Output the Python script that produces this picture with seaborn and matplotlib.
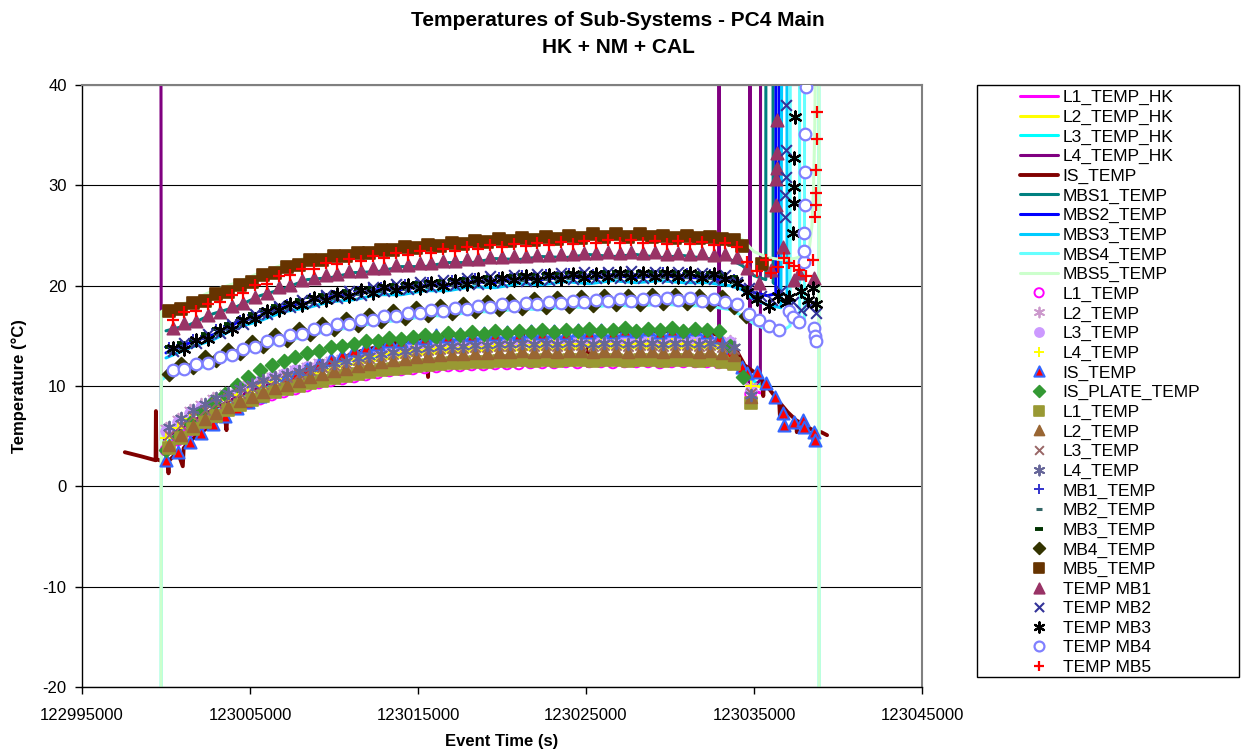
import matplotlib
matplotlib.use("Agg")
import matplotlib.pyplot as plt
import seaborn as sns
from matplotlib.patches import Rectangle
from matplotlib.markers import MarkerStyle
from matplotlib.ticker import FuncFormatter

# ---------------------------------------------------------------------------
# Data: times are given in kiloseconds relative to T0 (event time in seconds)
# ---------------------------------------------------------------------------
T0 = 123000000

X_TICKS = [122995000, 123005000, 123015000, 123025000, 123035000, 123045000]
Y_TICKS = [-20, -10, 0, 10, 20, 30, 40]

# sampling grids of the three marker groups (CAL, NM, TEMP MBx) and of HK lines
T_CAL = [0.0, 0.7, 1.4, 2.1, 2.8, 3.5, 4.2, 4.9, 5.6, 6.3, 7.0, 7.7, 8.4, 9.1, 9.8,
         10.5, 11.2, 11.9, 12.6, 13.3, 14.0, 14.7, 15.4, 16.1, 16.8, 17.5, 18.2,
         18.9, 19.6, 20.3, 21.0, 21.7, 22.4, 23.1, 23.8, 24.5, 25.2, 25.9, 26.6,
         27.3, 28.0, 28.7, 29.4, 30.1, 30.8, 31.5, 32.2, 32.9, 33.6]
T_NM = [0.2, 0.9, 1.6, 2.3, 3.0, 3.7, 4.4, 5.1, 5.8, 6.5, 7.2, 7.9, 8.6, 9.3, 10.0,
        10.7, 11.4, 12.1, 12.8, 13.5, 14.2, 14.9, 15.6, 16.3, 17.0, 17.7, 18.4,
        19.1, 19.8, 20.5, 21.2, 21.9, 22.6, 23.3, 24.0, 24.7, 25.4, 26.1, 26.8,
        27.5, 28.2, 28.9, 29.6, 30.3, 31.0, 31.7, 32.4, 33.1, 33.8]
T_TMB = [0.4, 1.1, 1.8, 2.5, 3.2, 3.9, 4.6, 5.3, 6.0, 6.7, 7.4, 8.1, 8.8, 9.5, 10.2,
         10.9, 11.6, 12.3, 13.0, 13.7, 14.4, 15.1, 15.8, 16.5, 17.2, 17.9, 18.6,
         19.3, 20.0, 20.7, 21.4, 22.1, 22.8, 23.5, 24.2, 24.9, 25.6, 26.3, 27.0,
         27.7, 28.4, 29.1, 29.8, 30.5, 31.2, 31.9, 32.6, 33.3, 34.0]
T_HK = [0.0, 1.4, 2.8, 4.2, 5.6, 7.0, 8.4, 9.8, 11.2, 12.6, 14.0, 15.4, 16.8, 18.2,
        19.6, 21.0, 22.4, 23.8, 25.2, 26.6, 28.0, 29.4, 30.8, 32.2, 33.6]

# --- HK lines --------------------------------------------------------------
L1_HK = [3.5, 5.3, 6.6, 7.6, 8.5, 9.3, 10.1, 10.6, 11.1, 11.5, 11.8, 12.1, 12.3,
         12.4, 12.5, 12.5, 12.6, 12.6, 12.7, 12.7, 12.7, 12.7, 12.7, 12.7, 12.6]
L2_HK = [3.9, 5.8, 7.2, 8.4, 9.4, 10.3, 11.1, 11.7, 12.2, 12.6, 12.9, 13.2, 13.4,
         13.5, 13.6, 13.6, 13.7, 13.7, 13.8, 13.8, 13.8, 13.8, 13.8, 13.8, 13.7]
L3_HK = [4.3, 6.2, 7.6, 8.8, 9.8, 10.7, 11.5, 12.1, 12.6, 13.0, 13.3, 13.6, 13.8,
         13.9, 14.0, 14.0, 14.1, 14.1, 14.2, 14.2, 14.2, 14.2, 14.2, 14.2, 14.1]
HK_END_T = [34.3, 34.8, 35.4]
L1_HK_END = [11.0, 9.6, 9.3]
L2_HK_END = [11.8, 10.2, 9.9]
L3_HK_END = [12.2, 10.6, 10.2]

L4_HK_T = [-0.32, -0.28, 1.4, 2.8, 4.2, 5.6, 7.0, 8.4, 9.8, 11.2, 12.6, 14.0, 15.4,
           16.8, 18.2, 19.6, 21.0, 22.4, 23.8, 25.2, 26.6, 28.0, 29.4, 30.8, 32.2,
           32.9, 32.92, 32.94, 33.6, 34.2, 34.74, 34.76, 34.78, 35.38, 35.4]
L4_HK_V = [80, 4.6, 6.3, 7.7, 8.9, 9.9, 10.8, 11.6, 12.2, 12.7, 13.1, 13.4, 13.7,
           13.9, 14.0, 14.1, 14.1, 14.2, 14.2, 14.3, 14.3, 14.3, 14.3, 14.3, 14.3,
           14.2, 80, 14.1, 13.9, 12.0, 10.4, 80, 9.6, 10.6, 80]

IS_LINE_T = [-2.45, -1.5, -0.62, -0.6, -0.57, -0.2, 0.1, 0.15, 0.2, 0.7, 1.0, 1.05,
             1.4, 2.1, 2.8, 3.5, 3.6, 3.65, 4.2, 4.9, 5.6, 6.3, 7.0, 7.7, 8.4, 9.1,
             9.8, 10.5, 10.6, 10.65, 11.2, 11.9, 12.6, 13.3, 14.0, 14.7, 15.4, 15.6,
             15.65, 16.1, 16.8, 17.5, 18.2, 18.9, 19.1, 19.15, 19.6, 20.3, 21.0,
             21.2, 21.25, 21.7, 22.4, 23.1, 23.8, 24.5, 25.1, 25.15, 25.9, 26.6,
             27.3, 28.0, 28.7, 29.4, 30.1, 30.8, 31.5, 32.2, 32.9, 33.6, 34.0, 34.4,
             34.45, 34.5, 35.0, 35.5, 35.55, 35.6, 36.0, 36.5, 36.55, 36.6, 37.0,
             37.5, 37.55, 37.6, 38.0, 38.5, 38.55, 38.6, 39.0, 39.35]
IS_LINE_V = [3.4, 3.0, 2.6, 7.5, 2.7, 2.5, 2.2, 1.3, 2.6, 3.4, 2.0, 3.8, 4.5, 5.4,
             6.2, 7.0, 5.6, 7.1, 7.7, 8.3, 8.9, 9.5, 10.1, 10.7, 11.3, 11.8, 12.3,
             12.8, 10.6, 12.9, 13.3, 13.6, 13.9, 14.2, 14.4, 14.6, 14.8, 10.9, 14.8,
             14.9, 15.0, 15.1, 15.1, 15.2, 12.3, 15.2, 15.2, 15.3, 15.3, 12.1, 15.3,
             15.4, 15.3, 15.4, 15.4, 15.5, 12.0, 15.4, 15.5, 15.5, 15.4, 15.5, 15.5,
             15.4, 15.5, 15.5, 15.4, 15.5, 15.0, 14.2, 13.4, 12.2, 10.5, 12.0, 11.4,
             10.6, 9.0, 10.4, 9.5, 8.4, 6.8, 8.2, 7.4, 6.6, 5.4, 6.5, 6.1, 5.6, 4.3,
             5.5, 5.4, 5.1]

MBS1 = [15.5, 16.1, 17.2, 17.9, 19.0, 19.7, 20.6, 20.8, 21.3, 21.4, 21.9, 21.9, 22.3,
        22.3, 22.7, 22.6, 22.9, 22.8, 23.1, 22.9, 23.1, 22.8, 23.0, 22.7, 22.6]
MBS1_END_T = [34.3, 35.0, 35.7, 35.72, 36.12, 36.14, 36.2]
MBS1_END = [22.0, 21.0, 20.6, 80, 80, 20.3, 20.2]

MBS2 = [13.3, 14.3, 15.1, 16.3, 17.0, 17.9, 18.3, 18.9, 19.1, 19.6, 19.6, 20.0, 20.0,
        20.4, 20.3, 20.7, 20.6, 20.9, 20.7, 21.0, 20.8, 21.0, 20.8, 20.8, 20.5]
MBS2_END_T = [34.3, 35.0, 35.8, 36.3, 36.32, 36.5, 36.52, 36.6]
MBS2_END = [20.0, 19.3, 19.0, 19.2, 80, 80, 19.0, 19.0]

MBS3 = [12.8, 13.8, 14.6, 15.8, 16.5, 17.4, 17.8, 18.4, 18.6, 19.1, 19.1, 19.5, 19.5,
        19.9, 19.8, 20.2, 20.1, 20.4, 20.2, 20.5, 20.3, 20.5, 20.3, 20.3, 20.0]
MBS3_END_T = [34.3, 35.0, 35.8, 36.6, 36.72, 36.95, 36.97, 37.05]
MBS3_END = [19.6, 18.6, 18.1, 17.8, 80, 80, 17.6, 17.5]

MBS4_START_T = [-0.3, -0.28]
MBS4_START = [-60, 10.6]
MBS4 = [10.9, 11.6, 12.1, 13.1, 13.8, 14.5, 14.9, 15.6, 15.8, 16.4, 16.5, 17.0, 17.0,
        17.4, 17.4, 17.7, 17.6, 17.9, 17.8, 18.1, 17.9, 18.2, 18.0, 18.0, 17.6]
MBS4_END_T = [34.3, 35.0, 35.8, 36.6, 37.15, 37.17, 37.7, 37.72, 38.0, 38.02, 38.86,
              38.88]
MBS4_END = [17.0, 16.2, 15.6, 15.4, 16.0, 80, 80, 16.5, 16.5, 80, 80, -60]

MBS5_START_T = [-0.3, -0.28]
MBS5_START = [-60, 17.4]
MBS5 = [17.7, 18.4, 19.5, 20.3, 21.3, 22.1, 22.8, 23.2, 23.5, 23.8, 24.1, 24.3, 24.5,
        24.7, 24.9, 25.0, 25.1, 25.2, 25.3, 25.3, 25.3, 25.2, 25.2, 25.1, 25.0]
MBS5_END_T = [34.3, 35.0, 35.8, 36.6, 37.4, 38.0, 38.3, 38.45, 38.55, 38.62, 38.67,
              38.7, 38.86, 38.88]
MBS5_END = [24.6, 23.4, 22.8, 22.6, 22.7, 23.0, 23.8, 26.0, 30.0, 36.0, 45.0, 80, 80,
            -60]

# --- CAL markers -------------------------------------------------------------
L1_CAL = [3.6, 4.6, 5.5, 6.2, 6.8, 7.4, 7.9, 8.3, 8.7, 9.1, 9.4, 9.7, 10.0, 10.3, 10.5,
          10.7, 10.9, 11.1, 11.3, 11.5, 11.6, 11.7, 11.8, 11.9, 12.0, 12.0, 12.1, 12.1,
          12.2, 12.2, 12.2, 12.3, 12.3, 12.3, 12.4, 12.3, 12.4, 12.4, 12.3, 12.4, 12.4,
          12.4, 12.3, 12.4, 12.4, 12.4, 12.4, 12.3, 12.2]
L2_CAL = [5.8, 6.7, 7.6, 8.2, 8.8, 9.3, 9.8, 10.2, 10.6, 11.0, 11.3, 11.7, 12.0, 12.4,
          12.6, 12.8, 13.1, 13.3, 13.5, 13.7, 13.8, 14.0, 14.1, 14.2, 14.3, 14.3, 14.4,
          14.4, 14.5, 14.5, 14.5, 14.6, 14.6, 14.6, 14.6, 14.7, 14.6, 14.7, 14.7, 14.6,
          14.7, 14.7, 14.6, 14.7, 14.7, 14.6, 14.7, 14.6, 14.5]
L3_CAL = [5.5, 6.4, 7.3, 7.9, 8.5, 9.1, 9.6, 10.0, 10.5, 10.9, 11.2, 11.6, 11.9, 12.2,
          12.5, 12.7, 13.0, 13.2, 13.4, 13.6, 13.7, 13.9, 14.0, 14.1, 14.2, 14.2, 14.3,
          14.3, 14.4, 14.4, 14.4, 14.5, 14.5, 14.5, 14.5, 14.6, 14.5, 14.6, 14.6, 14.5,
          14.6, 14.6, 14.5, 14.6, 14.6, 14.5, 14.6, 14.5, 14.4]
L4_CAL = [4.8, 5.8, 6.7, 7.4, 8.0, 8.6, 9.1, 9.5, 10.0, 10.4, 10.7, 11.1, 11.5, 11.8,
          12.1, 12.3, 12.6, 12.8, 13.0, 13.2, 13.3, 13.5, 13.6, 13.7, 13.8, 13.8, 13.9,
          13.9, 14.0, 14.0, 14.0, 14.1, 14.1, 14.1, 14.1, 14.2, 14.1, 14.2, 14.2, 14.1,
          14.2, 14.2, 14.1, 14.2, 14.2, 14.1, 14.2, 14.1, 14.0]
IS_CAL = [2.6, 3.4, 4.4, 5.3, 6.2, 7.0, 7.8, 8.4, 9.0, 9.7, 10.4, 11.0, 11.7, 12.2,
          12.7, 13.1, 13.6, 13.9, 14.2, 14.5, 14.5, 14.9, 14.8, 15.1, 15.0, 15.2, 15.1,
          15.3, 15.2, 15.4, 15.2, 15.5, 15.3, 15.5, 15.3, 15.6, 15.4, 15.6, 15.4, 15.6,
          15.5, 15.7, 15.4, 15.6, 15.5, 15.7, 15.4, 14.9, 13.4]
IS_PLATE = [3.6, 4.9, 6.3, 7.4, 8.4, 9.2, 10.1, 10.9, 11.6, 12.1, 12.5, 12.9, 13.3,
            13.5, 13.9, 14.0, 14.2, 14.5, 14.5, 14.8, 14.7, 14.9, 15.1, 14.9, 15.3,
            15.1, 15.4, 15.2, 15.5, 15.3, 15.5, 15.4, 15.6, 15.4, 15.6, 15.5, 15.7,
            15.5, 15.6, 15.8, 15.5, 15.7, 15.6, 15.8, 15.5, 15.7, 15.6, 15.5, 14.0]
CAL_END_T = [34.8]
L1_CAL_END = [9.2]
L2_CAL_END = [10.0]
L3_CAL_END = [9.6]
L4_CAL_END = [10.0]
IS_CAL_END_T = [34.3, 34.6, 35.2, 35.7, 36.25, 36.7, 36.8, 37.4, 37.9, 38.0, 38.6, 38.62]
IS_CAL_END = [11.9, 11.3, 11.4, 10.3, 8.9, 7.3, 6.1, 6.4, 6.6, 5.9, 5.4, 4.6]
IS_PLATE_END_T = [34.35]
IS_PLATE_END = [10.9]

# --- NM markers --------------------------------------------------------------
L1_NM = [3.8, 4.8, 5.7, 6.4, 7.0, 7.6, 8.1, 8.6, 9.0, 9.4, 9.7, 10.0, 10.3, 10.5, 10.8,
         11.0, 11.2, 11.4, 11.6, 11.7, 11.8, 12.0, 12.1, 12.2, 12.3, 12.3, 12.4, 12.4,
         12.5, 12.5, 12.6, 12.5, 12.6, 12.5, 12.6, 12.6, 12.5, 12.6, 12.6, 12.5, 12.6,
         12.6, 12.5, 12.6, 12.6, 12.5, 12.6, 12.4, 12.2]
L2_NM = [4.1, 5.1, 6.0, 6.7, 7.3, 7.9, 8.5, 8.9, 9.4, 9.8, 10.1, 10.5, 10.9, 11.2, 11.5,
         11.7, 12.0, 12.2, 12.4, 12.6, 12.7, 12.9, 13.0, 13.1, 13.2, 13.2, 13.3, 13.3,
         13.4, 13.4, 13.5, 13.4, 13.5, 13.4, 13.5, 13.5, 13.4, 13.5, 13.5, 13.4, 13.5,
         13.5, 13.4, 13.5, 13.5, 13.4, 13.5, 13.3, 13.1]
L3_NM = [5.1, 6.1, 7.0, 7.6, 8.3, 8.8, 9.3, 9.8, 10.2, 10.6, 10.9, 11.2, 11.6, 11.9,
         12.1, 12.3, 12.6, 12.8, 13.0, 13.2, 13.3, 13.5, 13.6, 13.7, 13.8, 13.8, 13.9,
         13.9, 14.0, 14.0, 14.1, 14.0, 14.1, 14.0, 14.1, 14.1, 14.0, 14.1, 14.1, 14.0,
         14.1, 14.1, 14.0, 14.1, 14.1, 14.0, 14.1, 13.9, 13.7]
L4_NM = [5.9, 6.8, 7.6, 8.2, 8.8, 9.3, 9.8, 10.2, 10.6, 10.9, 11.2, 11.5, 11.8, 12.1,
         12.3, 12.5, 12.8, 13.0, 13.2, 13.4, 13.5, 13.7, 13.8, 13.9, 14.0, 14.0, 14.1,
         14.1, 14.2, 14.2, 14.3, 14.2, 14.3, 14.2, 14.3, 14.3, 14.2, 14.3, 14.3, 14.2,
         14.3, 14.3, 14.2, 14.3, 14.3, 14.2, 14.3, 14.1, 13.9]
NM_END_T = [34.8]
L1_NM_END = [8.3]
L2_NM_END = [8.9]
L3_NM_END = [9.3]
L4_NM_END = [9.1]

MB1_NM = [13.9, 14.1, 14.7, 15.0, 15.7, 16.0, 16.6, 17.1, 17.4, 17.9, 18.2, 18.4, 18.8,
          19.0, 19.1, 19.5, 19.5, 19.8, 19.9, 20.0, 20.2, 20.1, 20.4, 20.3, 20.6, 20.5,
          20.8, 20.7, 20.9, 20.8, 21.1, 20.9, 21.2, 21.0, 21.3, 21.1, 21.2, 21.3, 21.2,
          21.4, 21.2, 21.3, 21.4, 21.2, 21.3, 21.1, 21.2, 21.0, 20.7]
MB2_NM = [13.4, 13.8, 14.1, 14.8, 15.2, 15.7, 16.2, 16.7, 17.2, 17.5, 17.8, 18.2, 18.4,
          18.7, 18.8, 19.0, 19.2, 19.4, 19.5, 19.6, 19.7, 19.9, 19.9, 20.0, 20.1, 20.2,
          20.3, 20.4, 20.4, 20.5, 20.6, 20.6, 20.7, 20.7, 20.8, 20.8, 20.8, 20.9, 20.9,
          20.9, 20.9, 20.9, 20.9, 20.9, 20.9, 20.8, 20.8, 20.7, 20.4]
MB3_NM = [13.9, 14.3, 14.6, 15.2, 15.7, 16.2, 16.7, 17.2, 17.6, 18.0, 18.3, 18.6, 18.9,
          19.1, 19.3, 19.5, 19.7, 19.8, 20.0, 20.1, 20.2, 20.3, 20.4, 20.5, 20.6, 20.7,
          20.8, 20.9, 20.9, 21.0, 21.1, 21.1, 21.2, 21.2, 21.3, 21.3, 21.3, 21.4, 21.4,
          21.4, 21.4, 21.4, 21.4, 21.4, 21.4, 21.3, 21.3, 21.2, 20.9]
MB4_NM = [11.2, 12.2, 11.9, 12.9, 12.6, 13.6, 13.3, 14.4, 14.0, 15.1, 14.6, 15.7, 15.2,
          16.2, 15.7, 16.7, 16.1, 17.1, 16.5, 17.5, 16.8, 17.8, 17.1, 18.0, 17.3, 18.2,
          17.5, 18.4, 17.7, 18.5, 17.8, 18.7, 17.9, 18.8, 18.0, 18.9, 18.1, 19.0, 18.2,
          19.0, 18.2, 19.1, 18.3, 19.1, 18.3, 19.0, 18.2, 18.9, 17.9]
MB5_NM = [17.5, 17.7, 18.3, 18.5, 19.2, 19.4, 20.1, 20.4, 21.1, 21.3, 21.9, 22.1, 22.6,
          22.6, 23.0, 23.0, 23.3, 23.3, 23.6, 23.6, 23.9, 23.8, 24.1, 24.0, 24.3, 24.2,
          24.5, 24.4, 24.7, 24.5, 24.8, 24.6, 24.9, 24.7, 25.0, 24.8, 25.1, 24.9, 25.1,
          24.9, 25.1, 24.9, 25.0, 24.8, 25.0, 24.8, 24.9, 24.7, 24.6]
MB_END_T = [34.5, 35.2]
MB1_END = [19.6, 18.7]
MB2_END = [19.4, 18.5]
MB3_END = [19.8, 18.9]
MB4_END_T = [34.5]
MB4_END = [17.0]
MB5_END_T = [34.3, 35.5]
MB5_END = [24.0, 22.2]

# --- TEMP MBx markers ---------------------------------------------------------
TMB1 = [15.8, 16.3, 16.5, 17.1, 17.4, 18.0, 18.3, 18.9, 19.3, 19.9, 20.1, 20.6, 20.8,
        21.1, 21.2, 21.5, 21.5, 21.8, 21.8, 22.1, 22.1, 22.3, 22.3, 22.5, 22.5, 22.7,
        22.7, 22.9, 22.9, 23.0, 23.0, 23.1, 23.1, 23.2, 23.2, 23.3, 23.3, 23.4, 23.3,
        23.4, 23.3, 23.4, 23.2, 23.3, 23.2, 23.3, 23.1, 23.2, 22.9]
TMB1_END_T = [34.6, 35.3, 36.0, 36.3, 36.32, 36.34, 36.36, 36.38, 36.4, 36.7, 37.4,
              37.7, 38.6]
TMB1_END = [21.8, 20.3, 21.6, 28.0, 30.6, 31.7, 33.2, 36.5, 44.0, 23.9, 20.6, 21.3,
            20.8]

TMB2 = [13.5, 14.3, 14.3, 15.2, 15.3, 16.2, 16.2, 17.2, 17.2, 18.0, 17.9, 18.6, 18.4,
        19.1, 18.8, 19.5, 19.1, 19.9, 19.5, 20.2, 19.7, 20.4, 19.9, 20.6, 20.1, 20.8,
        20.2, 21.0, 20.4, 21.1, 20.5, 21.2, 20.6, 21.3, 20.7, 21.4, 20.8, 21.4, 20.8,
        21.5, 20.8, 21.4, 20.8, 21.4, 20.7, 21.3, 20.7, 21.1, 20.4]
TMB2_END_T = [34.7, 35.4, 36.1, 36.6, 36.85, 36.87, 36.89, 36.91, 36.93, 36.95, 37.3,
              37.8, 38.3, 38.7]
TMB2_END = [19.8, 19.0, 18.6, 19.5, 26.8, 29.0, 30.8, 33.5, 38.0, 45.0, 18.4, 17.6,
            18.0, 17.3]

TMB3 = [13.8, 13.7, 14.6, 14.7, 15.6, 15.7, 16.6, 16.7, 17.5, 17.6, 18.2, 18.1, 18.8,
        18.6, 19.2, 19.0, 19.6, 19.3, 19.9, 19.6, 20.1, 19.8, 20.3, 20.0, 20.5, 20.2,
        20.7, 20.4, 20.8, 20.6, 21.0, 20.6, 21.1, 20.7, 21.2, 20.8, 21.2, 20.9, 21.3,
        20.9, 21.3, 20.9, 21.3, 20.9, 21.3, 20.8, 21.2, 20.7, 20.3]
TMB3_END_T = [34.6, 35.2, 35.9, 36.4, 36.9, 37.1, 37.35, 37.37, 37.39, 37.41, 37.43,
              37.45, 37.8, 38.2, 38.5, 38.7]
TMB3_END = [19.4, 18.7, 18.0, 19.0, 18.3, 18.9, 25.2, 28.2, 29.8, 32.7, 36.8, 45.0,
            19.5, 18.6, 19.8, 18.2]

TMB4 = [11.6, 11.7, 12.2, 12.3, 12.9, 13.1, 13.7, 13.9, 14.5, 14.6, 15.1, 15.2, 15.7,
        15.7, 16.2, 16.2, 16.6, 16.6, 17.0, 17.0, 17.3, 17.3, 17.6, 17.5, 17.8, 17.7,
        18.0, 17.9, 18.2, 18.0, 18.3, 18.2, 18.4, 18.3, 18.5, 18.4, 18.6, 18.5, 18.7,
        18.5, 18.7, 18.6, 18.8, 18.6, 18.8, 18.5, 18.7, 18.4, 18.2]
TMB4_END_T = [34.7, 35.3, 35.9, 36.5, 37.1, 37.3, 37.7, 37.95, 37.97, 37.99, 38.01,
              38.03, 38.05, 38.07, 38.09, 38.6, 38.65, 38.7]
TMB4_END = [17.2, 16.6, 16.0, 15.6, 17.5, 16.9, 16.4, 22.4, 23.5, 25.2, 28.0, 31.3,
            35.1, 39.8, 46.0, 15.8, 15.0, 14.5]

TMB5 = [16.6, 17.4, 17.5, 18.2, 18.4, 19.1, 19.3, 20.1, 20.2, 21.0, 21.1, 21.7, 21.7,
        22.3, 22.2, 22.7, 22.5, 23.0, 22.8, 23.3, 23.1, 23.5, 23.3, 23.7, 23.5, 23.9,
        23.7, 24.1, 23.9, 24.2, 24.0, 24.3, 24.1, 24.4, 24.2, 24.5, 24.3, 24.6, 24.3,
        24.6, 24.3, 24.5, 24.2, 24.5, 24.2, 24.4, 24.1, 24.3, 23.9]
TMB5_END_T = [34.6, 35.2, 35.7, 36.0, 36.4, 36.8, 37.1, 37.4, 37.7, 38.1, 38.5, 38.66,
              38.68, 38.70, 38.72, 38.74, 38.76, 38.78]
TMB5_END = [22.4, 21.5, 22.6, 21.3, 21.9, 22.8, 22.3, 22.0, 21.6, 21.0, 22.6, 26.8,
            28.0, 29.2, 31.5, 34.6, 37.3, 45.0]

# ---------------------------------------------------------------------------
# Figure
# ---------------------------------------------------------------------------
sns.set_style("white")
plt.rcParams["font.family"] = ["Liberation Sans", "DejaVu Sans"]
plt.rcParams["axes.unicode_minus"] = False
for key in ("text.color", "axes.labelcolor", "xtick.color", "ytick.color"):
    plt.rcParams[key] = "black"

W, H = 1241, 753
fig = plt.figure(figsize=(W / 100, H / 100), dpi=100)
ax = fig.add_axes([82 / W, (H - 687) / H, 840 / W, 602 / H])


def secs(t):
    return [T0 + 1000.0 * v for v in t]


def line(t, v, color, label, lw=2.2):
    sns.lineplot(x=secs(t), y=v, color=color, linewidth=lw, label=label,
                 sort=False, estimator=None, legend=False, ax=ax, zorder=2)


def points(t, v, label, marker, color, s=60, edge=None, face=None, lw=1.2):
    kws = dict(x=secs(t), y=v, marker=marker, s=s, color=color, linewidth=lw,
               label=label, legend=False, ax=ax, zorder=3)
    if MarkerStyle(marker).is_filled():
        kws["edgecolor"] = edge or color
        if face is not None:
            kws["facecolor"] = face
    sns.scatterplot(**kws)


ASTERISK = (6, 2, 0)

# lines (HK telemetry)
line(T_HK + HK_END_T, L1_HK + L1_HK_END, "#ff00ff", "L1_TEMP_HK")
line(T_HK + HK_END_T, L2_HK + L2_HK_END, "#ffff00", "L2_TEMP_HK")
line(T_HK + HK_END_T, L3_HK + L3_HK_END, "#00ffff", "L3_TEMP_HK")
line(L4_HK_T, L4_HK_V, "#800080", "L4_TEMP_HK")
line(IS_LINE_T, IS_LINE_V, "#800000", "IS_TEMP", lw=2.8)
line(T_HK + MBS1_END_T, MBS1 + MBS1_END, "#008080", "MBS1_TEMP")
line(T_HK + MBS2_END_T, MBS2 + MBS2_END, "#0000ff", "MBS2_TEMP")
line(T_HK + MBS3_END_T, MBS3 + MBS3_END, "#00ccff", "MBS3_TEMP")
line(MBS4_START_T + T_HK + MBS4_END_T, MBS4_START + MBS4 + MBS4_END, "#66ffff",
     "MBS4_TEMP")
line(MBS5_START_T + T_HK + MBS5_END_T, MBS5_START + MBS5 + MBS5_END, "#ccffcc",
     "MBS5_TEMP")

# CAL markers
points(T_CAL + CAL_END_T, L1_CAL + L1_CAL_END, "L1_TEMP", "o", "#ff00ff",
       s=60, face="none", lw=1.4)
points(T_CAL + CAL_END_T, L2_CAL + L2_CAL_END, "L2_TEMP", ASTERISK, "#cc99cc",
       s=70, lw=1.3)
points(T_CAL + CAL_END_T, L3_CAL + L3_CAL_END, "L3_TEMP", "o", "#cc99ff", s=60)
points(T_CAL + CAL_END_T, L4_CAL + L4_CAL_END, "L4_TEMP", "+", "#ffff00",
       s=70, lw=1.4)
points(T_CAL + IS_CAL_END_T, IS_CAL + IS_CAL_END, "IS_TEMP", "^", "#3366ff",
       s=75, edge="#3366ff", face="#ff0000", lw=1.5)
points(T_CAL + IS_PLATE_END_T, IS_PLATE + IS_PLATE_END, "IS_PLATE_TEMP", "D",
       "#339933", s=50)

# NM markers
points(T_NM + NM_END_T, L1_NM + L1_NM_END, "L1_TEMP", "s", "#999933", s=68)
points(T_NM + NM_END_T, L2_NM + L2_NM_END, "L2_TEMP", "^", "#996633", s=72)
points(T_NM + NM_END_T, L3_NM + L3_NM_END, "L3_TEMP", "x", "#996666", s=55, lw=1.4)
points(T_NM + NM_END_T, L4_NM + L4_NM_END, "L4_TEMP", ASTERISK, "#666699",
       s=70, lw=1.4)
points(T_NM + MB_END_T, MB1_NM + MB1_END, "MB1_TEMP", "+", "#3333cc", s=60, lw=1.4)
points(T_NM + MB_END_T, MB2_NM + MB2_END, "MB2_TEMP", "_", "#336666", s=20, lw=2.2)
points(T_NM + MB_END_T, MB3_NM + MB3_END, "MB3_TEMP", "_", "#003300", s=40, lw=2.8)
points(T_NM + MB4_END_T, MB4_NM + MB4_END, "MB4_TEMP", "D", "#333300", s=50)
points(T_NM + MB5_END_T, MB5_NM + MB5_END, "MB5_TEMP", "s", "#663300", s=80)

# TEMP MBx markers
points(T_TMB + TMB1_END_T, TMB1 + TMB1_END, "TEMP MB1", "^", "#993366", s=80)
points(T_TMB + TMB2_END_T, TMB2 + TMB2_END, "TEMP MB2", "x", "#333399", s=60, lw=1.5)
points(T_TMB + TMB3_END_T, TMB3 + TMB3_END, "TEMP MB3", ASTERISK, "#000000",
       s=75, lw=1.6)
points(T_TMB + TMB4_END_T, TMB4 + TMB4_END, "TEMP MB4", "o", "#8080ff",
       s=70, face="white", lw=1.6)
points(T_TMB + TMB5_END_T, TMB5 + TMB5_END, "TEMP MB5", "+", "#ff0000", s=85, lw=1.6)

# axes styling
ax.set_xlim(X_TICKS[0], X_TICKS[-1])
ax.set_ylim(Y_TICKS[0], Y_TICKS[-1])
ax.set_xticks(X_TICKS)
ax.set_yticks(Y_TICKS)
ax.xaxis.set_major_formatter(FuncFormatter(lambda v, p: f"{v:.0f}"))
ax.yaxis.grid(True, color="black", linewidth=0.8)
ax.xaxis.grid(False)
ax.set_axisbelow(True)
ax.tick_params(axis="both", direction="out", length=5, width=1, colors="black",
               labelsize=12, bottom=True, left=True)
ax.tick_params(axis="x", pad=10)
ax.tick_params(axis="y", pad=6)
for side in ("left", "bottom"):
    ax.spines[side].set_color("black")
    ax.spines[side].set_linewidth(1.0)
for side in ("top", "right"):
    ax.spines[side].set_color("#808080")
    ax.spines[side].set_linewidth(1.5)

ax.set_xlabel("Event Time (s)", fontsize=12, fontweight="bold")
ax.set_ylabel("Temperature (°C)", fontsize=12, fontweight="bold")
ax.xaxis.set_label_coords(0.5, -(734 - 687) / 602)
ax.yaxis.set_label_coords(-(82 - 27) / 840, 0.5)

fig.text(618 / W, 1 - 11 / H, "Temperatures of Sub-Systems - PC4 Main\nHK + NM + CAL",
         ha="center", va="top", fontsize=15, fontweight="bold", linespacing=1.55)

# legend
handles, labels = ax.get_legend_handles_labels()
fig.legend(handles, labels, loc="upper left",
           bbox_to_anchor=(1020 / W, 1 - 90 / H), bbox_transform=fig.transFigure,
           frameon=False, fontsize=12.5, handlelength=2.2, handletextpad=0.25,
           labelspacing=0.252, borderpad=0, borderaxespad=0, markerscale=0.85,
           scatterpoints=1, scatteryoffsets=[0.5])
fig.add_artist(Rectangle((977 / W, (H - 677) / H), 262 / W, 592 / H,
                         transform=fig.transFigure, fill=False,
                         edgecolor="black", linewidth=1.0))

fig.savefig("out.png", dpi=100)
